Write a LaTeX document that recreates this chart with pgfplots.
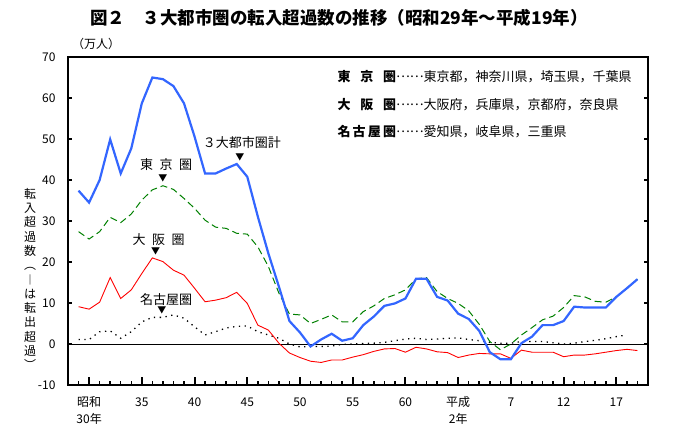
\documentclass[border=0pt]{standalone}
\usepackage{fontspec}
\setmainfont{Noto Sans CJK JP}
\usepackage{pgfplots}
\pgfplotsset{compat=1.18}
\definecolor{tblue}{RGB}{51,102,255}
\definecolor{tgreen}{RGB}{0,128,0}
\newcommand\fs[1]{\fontsize{#1}{#1}\selectfont}
\newcommand\twol[2]{\begin{tabular}[t]{@{}c@{}}#1\\#2\end{tabular}}
\begin{document}
\begin{tikzpicture}
\path[use as bounding box] (0,0) rectangle (686pt,-438pt);
\begin{axis}[
  at={(68pt,-385pt)}, anchor=south west,
  scale only axis, width=580pt, height=328pt,
  xmin=1953, xmax=2008, ymin=-10, ymax=70,
  axis line style={line width=1.6pt},
  xtick={1955,1960,...,2005},
  xticklabels={{\twol{昭和}{30年}},35,40,45,50,55,60,{\twol{平成}{2年}},7,12,17},
  minor xtick={1954,...,2007},
  ytick={-10,0,...,70},
  yticklabels={-10,0,10,20,30,40,50,60,70},
  minor y tick num=0,
  major tick length=4pt, minor tick length=4pt,
  xtick pos=left, ytick pos=both, yticklabel pos=left,
  tick align=inside,
  tick style={black, line width=1.5pt},
  extra x ticks={1955,1960,...,2005},
  extra x tick labels={},
  extra x tick style={major tick length=8pt, tick style={line width=2pt}},
  yticklabel style={font=\fs{12}, xshift=-9pt},
  xticklabel style={font=\fontsize{12}{16}\selectfont, anchor=base, yshift=-22pt},
]
\addplot[black, line width=0.8pt] coordinates {(1953,0) (2008,0)};
% Nagoya
\addplot[black, line width=1.3pt, dash pattern=on 1.3pt off 4.5pt] coordinates {
(1954,1.1)(1955,1.1)(1956,3.0)(1957,3.2)(1958,1.4)(1959,3.0)(1960,5.4)(1961,6.5)(1962,6.5)(1963,7.1)
(1964,6.3)(1965,4.2)(1966,2.2)(1967,3.0)(1968,3.9)(1969,4.3)(1970,4.4)(1971,3.0)(1972,2.2)(1973,1.4)
(1974,0.0)(1975,-0.7)(1976,-0.6)(1977,-0.6)(1978,-0.5)(1979,-0.1)(1980,0.0)(1981,0.1)(1982,0.2)(1983,0.4)
(1984,0.8)(1985,1.2)(1986,1.4)(1987,1.1)(1988,1.2)(1989,1.4)(1990,1.5)(1991,1.1)(1992,0.8)(1993,0.4)
(1994,0.2)(1995,0.2)(1996,0.6)(1997,0.6)(1998,0.6)(1999,0.3)(2000,0.0)(2001,0.2)(2002,0.6)(2003,0.9)
(2004,1.3)(2005,1.8)(2006,2.2)};
% Osaka
\addplot[red, line width=0.9pt] coordinates {
(1954,9.1)(1955,8.5)(1956,10.2)(1957,16.2)(1958,11.1)(1959,13.2)(1960,17.2)(1961,21.0)(1962,20.1)(1963,18.0)
(1964,16.8)(1965,13.6)(1966,10.3)(1967,10.7)(1968,11.3)(1969,12.6)(1970,9.9)(1971,4.6)(1972,3.4)(1973,0.2)
(1974,-2.2)(1975,-3.3)(1976,-4.2)(1977,-4.5)(1978,-3.9)(1979,-3.9)(1980,-3.2)(1981,-2.6)(1982,-1.8)(1983,-1.2)
(1984,-1.1)(1985,-2.0)(1986,-0.8)(1987,-1.2)(1988,-1.9)(1989,-2.1)(1990,-3.3)(1991,-2.7)(1992,-2.3)(1993,-2.4)
(1994,-2.4)(1995,-3.5)(1996,-1.5)(1997,-2.0)(1998,-2.0)(1999,-2.0)(2000,-3.1)(2001,-2.7)(2002,-2.7)(2003,-2.4)
(2004,-2.0)(2005,-1.6)(2006,-1.3)(2007,-1.6)};
% Tokyo
\addplot[tgreen, line width=1pt, dash pattern=on 7pt off 4pt] coordinates {
(1954,27.4)(1955,25.6)(1956,27.4)(1957,30.9)(1958,29.6)(1959,31.7)(1960,35.1)(1961,37.6)(1962,38.6)(1963,37.7)
(1964,35.5)(1965,33.1)(1966,30.2)(1967,28.5)(1968,28.2)(1969,27.0)(1970,26.8)(1971,23.7)(1972,18.9)(1973,12.4)
(1974,7.3)(1975,7.1)(1976,5.0)(1977,6.0)(1978,7.1)(1979,5.4)(1980,5.4)(1981,7.9)(1982,9.3)(1983,11.1)
(1984,12.0)(1985,13.2)(1986,15.9)(1987,16.2)(1988,12.8)(1989,11.1)(1990,9.9)(1991,8.1)(1992,4.8)(1993,0.6)
(1994,-1.4)(1995,0.0)(1996,2.2)(1997,4.0)(1998,5.9)(1999,6.8)(2000,8.9)(2001,11.8)(2002,11.5)(2003,10.4)
(2004,10.2)(2005,11.5)(2006,13.6)(2007,15.8)};
% Total
\addplot[tblue, line width=2.2pt] coordinates {
(1954,37.4)(1955,34.5)(1956,40.0)(1957,49.9)(1958,41.6)(1959,47.7)(1960,58.7)(1961,65.0)(1962,64.6)(1963,62.9)
(1964,58.7)(1965,50.6)(1966,41.6)(1967,41.6)(1968,42.8)(1969,43.9)(1970,40.8)(1971,31.1)(1972,22.1)(1973,14.0)
(1974,5.6)(1975,2.8)(1976,-0.6)(1977,1.1)(1978,2.5)(1979,0.8)(1980,1.4)(1981,4.6)(1982,6.7)(1983,9.3)
(1984,9.9)(1985,11.1)(1986,15.9)(1987,15.9)(1988,11.5)(1989,10.6)(1990,7.4)(1991,6.1)(1992,3.2)(1993,-2.0)
(1994,-3.7)(1995,-3.7)(1996,0.2)(1997,1.8)(1998,4.6)(1999,4.6)(2000,5.6)(2001,9.1)(2002,8.9)(2003,8.9)
(2004,8.9)(2005,11.5)(2006,13.6)(2007,15.8)};
\node[font=\fs{13}] at (axis cs:1969.5,49.1) {３大都市圏計};
\node[font=\fs{9}] at (axis cs:1969.3,45.5) {▼};
\node[font=\fs{13}] at (axis cs:1962.3,43.7) {東\hspace{0.5em}京\hspace{0.5em}圏};
\node[font=\fs{9}] at (axis cs:1962.0,40.4) {▼};
\node[font=\fs{13}] at (axis cs:1961.6,25.5) {大\hspace{0.5em}阪\hspace{0.5em}圏};
\node[font=\fs{9}] at (axis cs:1961.3,22.5) {▼};
\node[font=\fs{13}] at (axis cs:1962.3,10.9) {名古屋圏};
\node[font=\fs{9}] at (axis cs:1961.9,8.3) {▼};
\end{axis}
\node[font=\fs{17.5}\bfseries] at (339pt,-18pt) {図２　３大都市圏の転入超過数の推移（昭和29年～平成19年）};
\node[font=\fs{12}] at (96pt,-44pt) {（万人）};
\node[font=\fontsize{12}{14.3}\selectfont, align=center] at (30pt,-279pt) {転\\入\\超\\過\\数\\︵\\︱\\は\\転\\出\\超\\過\\︶};
\node[anchor=base west, font=\fs{13}] at (334pt,-81.6pt) {\makebox[4.5em][l]{\bfseries 東\hfill 京\hfill 圏}\raisebox{0.3em}{……}東京都，神奈川県，埼玉県，千葉県};
\node[anchor=base west, font=\fs{13}] at (334pt,-109.9pt) {\makebox[4.5em][l]{\bfseries 大\hfill 阪\hfill 圏}\raisebox{0.3em}{……}大阪府，兵庫県，京都府，奈良県};
\node[anchor=base west, font=\fs{13}] at (334pt,-136.6pt) {\makebox[4.5em][l]{\bfseries 名\hfill 古\hfill 屋\hfill 圏}\raisebox{0.3em}{……}愛知県，岐阜県，三重県};
\end{tikzpicture}
\end{document}
